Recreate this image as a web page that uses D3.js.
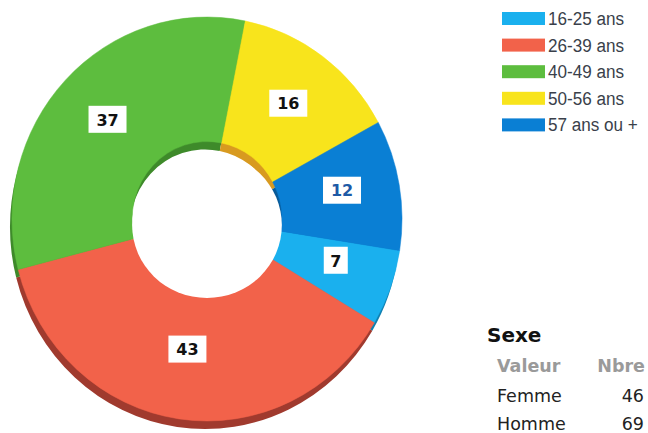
<!DOCTYPE html>
<html>
<head>
    <script src="https://d3js.org/d3.v7.min.js"></script>
    <style>
        body {margin: 0; background: #fff; font-family: "DejaVu Sans", Verdana, sans-serif;}
        svg {display: block;}
        .leg {font-family: "Liberation Sans Narrow", "Liberation Sans", Arial, sans-serif; font-size: 19px; fill: #3a3f4a;}
        .lbl {font-family: "DejaVu Sans", Verdana, sans-serif; font-size: 16px; font-weight: bold;}
        .tbl {font-family: "DejaVu Sans", Tahoma, sans-serif; font-size: 17.5px; fill: #222;}
    </style>
</head>
<body>
    <svg width="648" height="433"></svg>
    <script>
        // Age groups (legend order) and counts
        let categories = ["16-25 ans", "26-39 ans", "40-49 ans", "50-56 ans", "57 ans ou +"];
        let values = [7, 43, 37, 16, 12];
        let colors = ["#1ab0ee", "#f2624a", "#5dbd3e", "#f8e41c", "#0a7fd4"];
        let darkColors = ["#0f7fb0", "#a03a2e", "#3e8a2a", "#d89a20", "#085a98"];
        let labelColors = ["#111", "#111", "#111", "#111", "#1d5aa6"];

        // Sexe table
        let sexeHeader = ["Valeur", "Nbre"];
        let sexeLabels = ["Femme", "Homme"];
        let sexeValues = [46, 69];

        let svg = d3.select("svg");
        let cx = 207, cy = 219, rOuter = 198, rInner = 76;

        let start = 99 * Math.PI / 180;
        let pie = d3.pie().sort(null).value(d => d)
            .startAngle(start)
            .endAngle(start + 2 * Math.PI);
        let arcs = pie(values);
        let arc = d3.arc().innerRadius(rInner).outerRadius(rOuter);

        // lower layer for the 3D thickness
        let base = svg.append("g").attr("transform", `translate(${cx - 2},${cy + 8}) scale(0.985,1.02)`);
        base.selectAll("path").data(arcs).enter().append("path")
            .attr("d", arc)
            .attr("fill", (d, i) => darkColors[i]);

        let face = svg.append("g").attr("transform", `translate(${cx},${cy}) scale(0.985,1.02)`);
        face.selectAll("path").data(arcs).enter().append("path")
            .attr("d", arc)
            .attr("fill", (d, i) => colors[i])
            .attr("stroke", (d, i) => colors[i])
            .attr("stroke-width", 0.5);

        // hole
        face.append("circle").attr("r", rInner).attr("fill", "#fff")
            .attr("transform", "translate(0,6) scale(1,0.94)");

        // value labels
        let labelArc = d3.arc().innerRadius(rInner + 60).outerRadius(rOuter - 60);
        let labels = svg.append("g").attr("transform", `translate(${cx},${cy})`)
            .selectAll(".lab").data(arcs).enter().append("g")
            .attr("class", "lab")
            .attr("transform", d => {
                let c = labelArc.centroid(d);
                return `translate(${c[0]},${c[1] - 5})`;
            });
        labels.append("rect")
            .attr("x", d => d.data < 10 ? -12 : -19)
            .attr("y", -14)
            .attr("width", d => d.data < 10 ? 24 : 38)
            .attr("height", 27)
            .attr("fill", "#fff");
        labels.append("text")
            .attr("class", "lbl")
            .attr("text-anchor", "middle")
            .attr("dy", "0.36em")
            .attr("fill", (d, i) => labelColors[i])
            .text(d => d.data);

        // legend
        let leg = svg.append("g").selectAll("g").data(categories).enter().append("g")
            .attr("transform", (d, i) => `translate(502,${12 + i * 26.6})`);
        leg.append("rect").attr("width", 43).attr("height", 13)
            .attr("fill", (d, i) => colors[i]);
        leg.append("text").attr("class", "leg")
            .attr("transform", "translate(46,13) scale(0.9,1)")
            .text(d => d);

        // Sexe table
        let tbl = svg.append("g");
        tbl.append("text").attr("x", 487).attr("y", 342)
            .attr("font-family", "DejaVu Sans, Verdana, sans-serif")
            .attr("font-size", 20).attr("font-weight", "bold").attr("fill", "#111")
            .text("Sexe");
        tbl.append("text").attr("class", "tbl").attr("x", 497).attr("y", 372)
            .attr("font-weight", "bold").style("fill", "#9a9a9a")
            .text(sexeHeader[0]);
        tbl.append("text").attr("class", "tbl").attr("x", 645).attr("y", 372)
            .attr("text-anchor", "end")
            .attr("font-weight", "bold").style("fill", "#9a9a9a")
            .text(sexeHeader[1]);
        sexeLabels.forEach((s, i) => {
            tbl.append("text").attr("class", "tbl").attr("x", 497).attr("y", 402 + i * 28).text(s);
            tbl.append("text").attr("class", "tbl").attr("x", 644).attr("y", 402 + i * 28)
                .attr("text-anchor", "end").text(sexeValues[i]);
        });
    </script>
</body>
</html>
